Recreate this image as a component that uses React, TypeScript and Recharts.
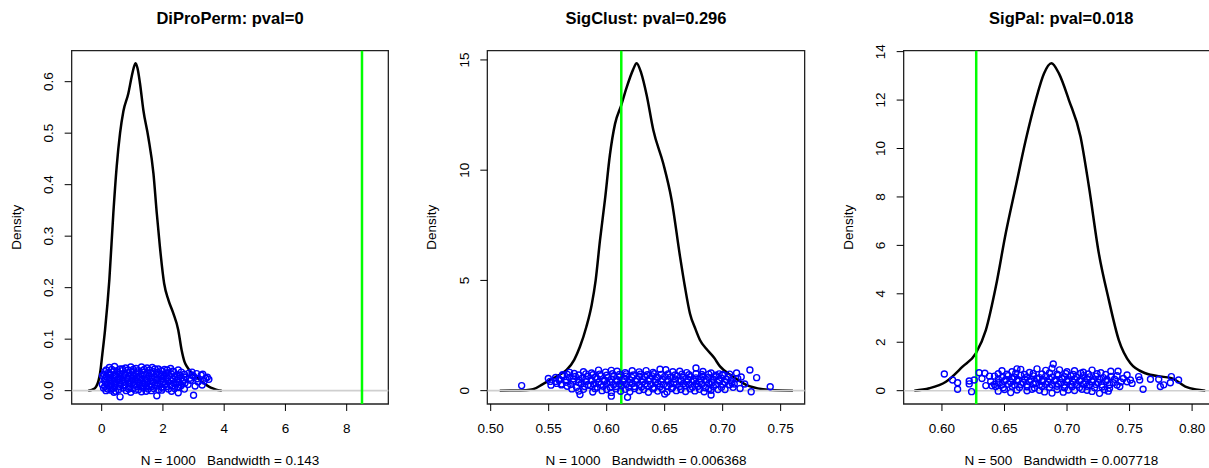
import { ComposedChart, Line, Scatter, XAxis, YAxis, ReferenceLine, ReferenceArea } from "recharts";

const FONT = '"Liberation Sans", Arial, Helvetica, sans-serif';

type Pair = [number, number];

// ---- DiProPerm ----
const diproDensity: Pair[] = [
  [-0.44, 0], [-0.3, 0.002], [-0.18, 0.008], [-0.1, 0.02], [-0.05, 0.035], [0.02, 0.07],
  [0.11, 0.118], [0.25, 0.215], [0.38, 0.344], [0.49, 0.435], [0.6, 0.5], [0.71, 0.543],
  [0.87, 0.577], [0.98, 0.61], [1.05, 0.628], [1.11, 0.636], [1.17, 0.626], [1.25, 0.597],
  [1.36, 0.545], [1.52, 0.493], [1.69, 0.422], [1.8, 0.344], [1.9, 0.28], [2.04, 0.208],
  [2.18, 0.176], [2.34, 0.15], [2.5, 0.118], [2.61, 0.079], [2.7, 0.057], [2.78, 0.047],
  [2.9, 0.037], [3.05, 0.029], [3.2, 0.021], [3.35, 0.014], [3.5, 0.008], [3.65, 0.004],
  [3.8, 0.001], [3.92, 0],
];
const diproPoints: Pair[] = [
  [0.25, 0.045], [0.42, 0.047], [0.6, 0.042], [0.78, 0.044], [0.95, 0.046], [1.12, 0.043],
  [1.3, 0.046], [1.48, 0.044], [1.65, 0.045], [1.85, 0.042], [2.05, 0.041], [2.25, 0.043],
  [0.15, 0.04], [0.33, 0.041], [0.5, 0.039], [0.68, 0.042], [0.86, 0.04], [1.03, 0.041],
  [1.2, 0.039], [1.39, 0.041], [1.56, 0.04], [1.74, 0.042], [1.94, 0.039], [2.14, 0.04],
  [2.32, 0.038], [2.5, 0.04],
  [0.1, 0.037], [0.22, 0.035], [0.38, 0.038], [0.52, 0.036], [0.68, 0.039], [0.85, 0.035],
  [1.0, 0.038], [1.17, 0.036], [1.34, 0.039], [1.5, 0.035], [1.68, 0.037], [1.82, 0.036],
  [1.98, 0.038], [2.15, 0.035], [2.35, 0.037], [2.6, 0.036], [2.85, 0.034], [3.1, 0.033],
  [0.08, 0.032], [0.26, 0.033], [0.43, 0.031], [0.6, 0.033], [0.78, 0.032], [0.96, 0.031],
  [1.12, 0.033], [1.29, 0.032], [1.45, 0.031], [1.62, 0.033], [1.78, 0.032], [1.94, 0.031],
  [2.1, 0.033], [2.28, 0.032], [2.47, 0.031], [2.7, 0.032], [2.95, 0.03],
  [0.03, 0.029], [0.16, 0.027], [0.3, 0.03], [0.45, 0.028], [0.6, 0.027], [0.74, 0.03],
  [0.9, 0.028], [1.05, 0.029], [1.22, 0.027], [1.38, 0.03], [1.55, 0.028], [1.72, 0.027],
  [1.88, 0.03], [2.03, 0.028], [2.2, 0.029], [2.4, 0.027], [2.55, 0.03], [2.75, 0.026],
  [3.0, 0.028], [3.25, 0.03], [3.4, 0.024], [3.5, 0.022],
  [0.11, 0.024], [0.27, 0.025], [0.41, 0.023], [0.56, 0.024], [0.7, 0.025], [0.86, 0.023],
  [1.0, 0.024], [1.16, 0.025], [1.32, 0.023], [1.48, 0.024], [1.65, 0.025], [1.82, 0.023],
  [1.98, 0.024], [2.15, 0.025], [2.33, 0.023], [2.5, 0.024], [2.68, 0.022], [2.88, 0.024],
  [3.12, 0.023],
  [0.08, 0.02], [0.24, 0.021], [0.36, 0.019], [0.5, 0.021], [0.66, 0.02], [0.82, 0.022],
  [0.96, 0.019], [1.1, 0.021], [1.27, 0.02], [1.43, 0.022], [1.6, 0.019], [1.77, 0.021],
  [1.93, 0.02], [2.1, 0.022], [2.28, 0.019], [2.46, 0.021], [2.66, 0.018], [2.9, 0.02],
  [3.15, 0.017], [3.35, 0.019],
  [0.13, 0.016], [0.28, 0.017], [0.43, 0.015], [0.58, 0.016], [0.73, 0.017], [0.88, 0.015],
  [1.03, 0.016], [1.18, 0.017], [1.34, 0.015], [1.5, 0.016], [1.66, 0.017], [1.83, 0.015],
  [2.0, 0.016], [2.17, 0.017], [2.35, 0.015], [2.52, 0.016], [2.72, 0.015],
  [0.02, 0.012], [0.18, 0.013], [0.32, 0.011], [0.47, 0.013], [0.62, 0.012], [0.77, 0.011],
  [0.92, 0.013], [1.07, 0.012], [1.24, 0.011], [1.4, 0.013], [1.57, 0.012], [1.74, 0.011],
  [1.9, 0.013], [2.07, 0.012], [2.24, 0.011], [2.42, 0.013], [2.6, 0.01], [2.82, 0.012],
  [3.05, 0.009], [3.28, 0.011],
  [0.1, 0.008], [0.26, 0.009], [0.42, 0.007], [0.58, 0.008], [0.74, 0.009], [0.9, 0.007],
  [1.14, 0.008], [1.3, 0.009], [1.46, 0.007], [1.62, 0.008], [1.8, 0.009], [1.96, 0.007],
  [2.12, 0.008], [2.3, 0.009], [2.48, 0.007],
  [0.06, 0.005], [0.2, 0.003], [0.35, 0.004], [0.55, 0.002], [0.7, 0.005], [0.88, 0.003],
  [1.02, 0.004], [1.2, 0.002], [1.36, 0.005], [1.52, 0.003], [1.7, 0.004], [1.86, 0.002],
  [2.0, 0.005], [2.18, 0.003], [2.38, 0.004], [2.52, 0.006], [2.7, 0.003],
  [0.14, 0.0], [0.3, 0.001], [0.46, -0.001], [0.8, 0.0], [1.1, 0.001], [1.45, -0.001],
  [1.62, 0.0], [1.96, 0.001], [2.28, -0.001],
  [0.6, -0.012], [1.8, -0.01], [3.0, -0.009], [0.4, -0.003], [1.3, -0.002], [2.5, -0.004],
  [0.95, -0.003], [3.45, 0.026], [3.3, 0.032], [2.95, 0.036],
];
const diproTicksX = [0, 2, 4, 6, 8];
const diproTicksY = [0, 0.1, 0.2, 0.3, 0.4, 0.5, 0.6];

// ---- SigClust ----
const sigclustDensity: Pair[] = [
  [0.5078, 0], [0.52, 0.003], [0.53, 0.02], [0.5365, 0.06], [0.545, 0.3], [0.5566, 0.64],
  [0.5655, 0.94], [0.572, 1.4], [0.577, 2.0], [0.5825, 2.9], [0.5871, 3.9], [0.5905, 5.0],
  [0.5942, 6.8], [0.5985, 8.65], [0.6028, 10.7], [0.6072, 12.1], [0.6126, 12.95],
  [0.6169, 13.7], [0.6227, 14.55], [0.6258, 14.85], [0.6298, 14.4], [0.6345, 13.4],
  [0.6402, 11.82], [0.6488, 10.3], [0.656, 8.65], [0.6632, 6.1], [0.6675, 4.7],
  [0.6718, 3.5], [0.6765, 2.8], [0.6804, 2.3], [0.6859, 1.9], [0.6925, 1.5], [0.6977, 1.1],
  [0.7089, 0.64], [0.7203, 0.26], [0.7347, 0.06], [0.745, 0.015], [0.7606, 0],
];
const sigclustPoints: Pair[] = [
  [0.572, 0.78], [0.58, 0.86], [0.587, 0.8], [0.593, 0.93], [0.599, 0.84], [0.604, 0.92],
  [0.609, 0.88], [0.616, 0.82], [0.622, 0.9], [0.628, 0.85], [0.634, 0.91], [0.64, 0.83],
  [0.646, 0.97], [0.651, 0.95], [0.657, 0.86], [0.663, 0.88], [0.669, 0.82], [0.677, 1.03],
  [0.683, 0.87], [0.69, 0.8], [0.697, 0.76],
  [0.566, 0.74], [0.576, 0.71], [0.582, 0.76], [0.588, 0.72], [0.594, 0.75], [0.6, 0.7],
  [0.605, 0.77], [0.611, 0.73], [0.617, 0.76], [0.623, 0.71], [0.629, 0.75], [0.635, 0.72],
  [0.641, 0.77], [0.647, 0.73], [0.653, 0.76], [0.659, 0.71], [0.665, 0.75], [0.671, 0.72],
  [0.677, 0.77], [0.682, 0.73], [0.688, 0.75], [0.694, 0.7], [0.7, 0.74],
  [0.562, 0.66], [0.568, 0.6], [0.573, 0.64], [0.579, 0.58], [0.584, 0.65], [0.59, 0.61],
  [0.595, 0.67], [0.601, 0.6], [0.606, 0.64], [0.611, 0.62], [0.617, 0.66], [0.622, 0.59],
  [0.628, 0.65], [0.633, 0.62], [0.639, 0.67], [0.644, 0.6], [0.65, 0.64], [0.655, 0.61],
  [0.661, 0.66], [0.666, 0.6], [0.672, 0.63], [0.677, 0.58], [0.683, 0.65], [0.688, 0.6],
  [0.694, 0.63], [0.699, 0.57], [0.705, 0.62],
  [0.559, 0.52], [0.565, 0.5], [0.571, 0.53], [0.576, 0.49], [0.582, 0.52], [0.587, 0.5],
  [0.592, 0.54], [0.598, 0.49], [0.604, 0.52], [0.609, 0.5], [0.615, 0.53], [0.62, 0.49],
  [0.626, 0.52], [0.631, 0.5], [0.637, 0.54], [0.642, 0.49], [0.648, 0.52], [0.653, 0.5],
  [0.659, 0.53], [0.664, 0.49], [0.67, 0.52], [0.675, 0.5], [0.681, 0.54], [0.686, 0.49],
  [0.692, 0.52], [0.697, 0.5], [0.703, 0.51],
  [0.556, 0.42], [0.565, 0.38], [0.571, 0.43], [0.576, 0.37], [0.582, 0.41], [0.587, 0.44],
  [0.593, 0.38], [0.598, 0.42], [0.603, 0.39], [0.609, 0.43], [0.614, 0.4], [0.62, 0.37],
  [0.625, 0.42], [0.631, 0.39], [0.636, 0.44], [0.642, 0.38], [0.647, 0.41], [0.653, 0.43],
  [0.658, 0.37], [0.664, 0.42], [0.669, 0.39], [0.675, 0.44], [0.68, 0.38], [0.686, 0.41],
  [0.691, 0.36], [0.697, 0.43], [0.702, 0.38], [0.708, 0.35],
  [0.561, 0.3], [0.569, 0.28], [0.578, 0.31], [0.584, 0.27], [0.589, 0.3], [0.595, 0.28],
  [0.6, 0.31], [0.606, 0.27], [0.611, 0.3], [0.617, 0.28], [0.622, 0.31], [0.628, 0.27],
  [0.633, 0.3], [0.638, 0.28], [0.644, 0.31], [0.649, 0.27], [0.655, 0.3], [0.66, 0.28],
  [0.666, 0.31], [0.671, 0.27], [0.677, 0.3], [0.682, 0.28], [0.688, 0.31], [0.694, 0.27],
  [0.7, 0.29], [0.706, 0.27],
  [0.566, 0.2], [0.574, 0.15], [0.581, 0.19], [0.586, 0.22], [0.592, 0.16], [0.597, 0.2],
  [0.603, 0.14], [0.608, 0.19], [0.613, 0.22], [0.619, 0.15], [0.624, 0.19], [0.63, 0.17],
  [0.635, 0.21], [0.641, 0.14], [0.646, 0.18], [0.652, 0.2], [0.657, 0.15], [0.663, 0.19],
  [0.668, 0.22], [0.674, 0.16], [0.679, 0.2], [0.685, 0.13], [0.692, 0.18], [0.699, 0.15],
  [0.57, 0.08], [0.58, 0.06], [0.59, 0.09], [0.6, 0.05], [0.608, 0.08], [0.616, 0.06],
  [0.624, 0.09], [0.632, 0.05], [0.64, 0.08], [0.648, 0.06], [0.656, 0.09], [0.664, 0.05],
  [0.672, 0.08], [0.68, 0.06], [0.688, 0.09], [0.696, 0.05],
  [0.576, -0.02], [0.588, -0.06], [0.596, 0.0], [0.604, -0.08], [0.612, -0.03], [0.62, -0.05],
  [0.628, 0.01], [0.636, -0.07], [0.644, -0.02], [0.652, -0.06], [0.66, 0.0], [0.668, -0.04],
  [0.676, -0.01], [0.684, -0.05], [0.69, 0.02],
  [0.577, -0.18], [0.604, -0.25], [0.618, -0.3], [0.65, -0.15], [0.69, -0.2], [0.7246, -0.05],
  [0.5267, 0.23], [0.5497, 0.55], [0.5513, 0.42], [0.552, 0.25], [0.556, 0.6], [0.559, 0.47],
  [0.562, 0.72], [0.557, 0.33], [0.568, 0.83], [0.561, 0.26],
  [0.706, 0.75], [0.71, 0.3], [0.713, 0.55], [0.715, 0.1], [0.716, 0.62], [0.719, 0.3],
  [0.7235, 0.94], [0.7293, 0.59], [0.741, 0.18], [0.7, 0.7], [0.709, 0.15], [0.702, 0.05],
  [0.707, 0.45], [0.712, 0.8],
];
const sigclustTicksX = [0.5, 0.55, 0.6, 0.65, 0.7, 0.75];
const sigclustTicksY = [0, 5, 10, 15];

// ---- SigPal ----
const sigpalDensity: Pair[] = [
  [0.5779, 0], [0.5899, 0.1], [0.6032, 0.37], [0.6165, 0.99], [0.6271, 1.54], [0.6351, 2.5],
  [0.6431, 4.3], [0.651, 6.5], [0.659, 8.43], [0.667, 10.35], [0.675, 12.0], [0.6816, 13.1],
  [0.6875, 13.52], [0.6935, 13.1], [0.7015, 12.0], [0.7108, 10.49], [0.7175, 8.43],
  [0.7254, 5.68], [0.7334, 3.75], [0.7414, 2.09], [0.7507, 1.13], [0.7627, 0.72],
  [0.776, 0.58], [0.784, 0.51], [0.7946, 0.17], [0.803, 0.05], [0.8105, 0],
];
const sigpalPoints: Pair[] = [
  [0.648, 0.82], [0.656, 0.78], [0.663, 0.88], [0.67, 0.75], [0.676, 0.9], [0.683, 0.84],
  [0.689, 1.1], [0.694, 0.86], [0.7, 0.78], [0.706, 0.82], [0.713, 0.76], [0.72, 0.85],
  [0.727, 0.74], [0.735, 0.8], [0.66, 0.9], [0.688, 0.93],
  [0.645, 0.7], [0.652, 0.68], [0.659, 0.72], [0.666, 0.67], [0.673, 0.71], [0.68, 0.69],
  [0.686, 0.73], [0.692, 0.68], [0.699, 0.71], [0.705, 0.67], [0.711, 0.72], [0.717, 0.69],
  [0.724, 0.7], [0.731, 0.67],
  [0.642, 0.6], [0.648, 0.55], [0.653, 0.62], [0.658, 0.56], [0.663, 0.63], [0.668, 0.57],
  [0.673, 0.61], [0.678, 0.54], [0.683, 0.6], [0.688, 0.56], [0.693, 0.64], [0.698, 0.58],
  [0.703, 0.61], [0.708, 0.55], [0.713, 0.62], [0.718, 0.57], [0.723, 0.6], [0.729, 0.54],
  [0.735, 0.59], [0.74, 0.62],
  [0.645, 0.48], [0.651, 0.46], [0.656, 0.49], [0.661, 0.45], [0.666, 0.48], [0.671, 0.46],
  [0.676, 0.49], [0.681, 0.45], [0.686, 0.48], [0.691, 0.46], [0.696, 0.49], [0.701, 0.45],
  [0.706, 0.48], [0.711, 0.46], [0.716, 0.49], [0.721, 0.45], [0.726, 0.48], [0.732, 0.46],
  [0.738, 0.47],
  [0.639, 0.38], [0.645, 0.33], [0.65, 0.39], [0.655, 0.35], [0.66, 0.4], [0.665, 0.34],
  [0.67, 0.37], [0.675, 0.32], [0.68, 0.39], [0.685, 0.35], [0.69, 0.4], [0.695, 0.33],
  [0.7, 0.38], [0.705, 0.35], [0.71, 0.4], [0.715, 0.33], [0.72, 0.37], [0.725, 0.34],
  [0.731, 0.39], [0.737, 0.33], [0.743, 0.36],
  [0.642, 0.26], [0.648, 0.24], [0.653, 0.27], [0.658, 0.23], [0.663, 0.26], [0.668, 0.24],
  [0.673, 0.27], [0.678, 0.23], [0.683, 0.26], [0.688, 0.24], [0.693, 0.27], [0.698, 0.23],
  [0.703, 0.26], [0.708, 0.24], [0.713, 0.27], [0.718, 0.23], [0.723, 0.26], [0.728, 0.24],
  [0.734, 0.25], [0.74, 0.23],
  [0.643, 0.17], [0.649, 0.12], [0.656, 0.18], [0.662, 0.13], [0.668, 0.16], [0.674, 0.11],
  [0.68, 0.17], [0.686, 0.14], [0.692, 0.18], [0.698, 0.12], [0.704, 0.16], [0.71, 0.13],
  [0.716, 0.18], [0.722, 0.12], [0.728, 0.15], [0.734, 0.1],
  [0.65, 0.05], [0.66, 0.03], [0.672, 0.06], [0.678, 0.02], [0.692, 0.05], [0.701, 0.03],
  [0.712, 0.06], [0.716, 0.02], [0.73, 0.04],
  [0.645, -0.02], [0.655, -0.08], [0.668, 0.0], [0.682, -0.05], [0.688, -0.1], [0.697, -0.06],
  [0.706, 0.01], [0.72, -0.03], [0.726, -0.11], [0.733, -0.02],
  [0.6019, 0.69], [0.6085, 0.44], [0.6125, 0.33], [0.6125, 0.06], [0.6218, 0.4], [0.6218, 0.28],
  [0.6237, -0.04], [0.6258, 0.44], [0.6297, 0.74], [0.6343, 0.72], [0.6351, 0.21], [0.632, 0.5],
  [0.638, 0.6], [0.64, 0.2],
  [0.7573, 0.58], [0.7581, 0.44], [0.7608, 0.06], [0.7667, 0.47], [0.7733, 0.47], [0.7746, 0.17],
  [0.7773, 0.24], [0.7834, 0.58], [0.7826, 0.33], [0.7892, 0.44], [0.748, 0.65], [0.748, 0.37],
  [0.7507, 0.44], [0.7408, 0.8], [0.7422, 0.17], [0.745, 0.5], [0.752, 0.3],
];
const sigpalTicksX = [0.6, 0.65, 0.7, 0.75, 0.8];
const sigpalTicksY = [0, 2, 4, 6, 8, 10, 12, 14];

const toXY = (pairs: Pair[]) => pairs.map(([x, y]) => ({ x, y }));

const BOX_TOP = 50.67;
const BOX_BOTTOM = 404;
const H = 468;

function Ring(props: any) {
  if (props.cx == null || props.cy == null) return null;
  return <circle cx={props.cx} cy={props.cy} r={3} fill="none" stroke="#0000ff" strokeWidth={1.4} />;
}

interface PanelProps {
  left: number;
  boxLeft: number;
  boxRight: number;
  xDomain: [number, number];
  yDomain: [number, number];
  xTicks: number[];
  yTicks: number[];
  xFmt: (v: number) => string;
  yFmt: (v: number) => string;
  density: Pair[];
  points: Pair[];
  observed: number;
  title: string;
  sub: string;
}

function Panel(p: PanelProps) {
  const width = p.boxRight - p.left + 10;
  const axisH = 40;
  const cx = (p.boxLeft + p.boxRight) / 2 - p.left;
  const yLabelX = p.boxLeft - p.left - 51;
  const yMid = (BOX_TOP + BOX_BOTTOM) / 2;
  return (
    <div style={{ position: "absolute", left: p.left, top: 0, width, height: H }}>
      <ComposedChart
        width={width}
        height={H}
        margin={{ top: BOX_TOP, right: 10, bottom: H - BOX_BOTTOM - axisH, left: 0 }}
      >
        <XAxis
          type="number"
          dataKey="x"
          domain={p.xDomain}
          ticks={p.xTicks}
          allowDataOverflow
          interval={0}
          height={axisH}
          axisLine={false}
          stroke="#000"
          tickSize={7}
          tickMargin={12}
          tickLine={{ stroke: "#000" }}
          tick={{ fill: "#000", fontSize: 13.5, fontFamily: FONT }}
          tickFormatter={p.xFmt}
        />
        <YAxis
          type="number"
          dataKey="y"
          domain={p.yDomain}
          ticks={p.yTicks}
          allowDataOverflow
          interval={0}
          width={p.boxLeft - p.left}
          axisLine={false}
          stroke="#000"
          tickSize={7}
          tickMargin={11.5}
          tickLine={{ stroke: "#000" }}
          tick={(t: any) => (
            <text
              x={t.x}
              y={t.y}
              transform={`rotate(-90 ${t.x} ${t.y})`}
              textAnchor="middle"
              fontSize={13.5}
              fontFamily={FONT}
              fill="#000"
            >
              {p.yFmt(t.payload.value)}
            </text>
          )}
        />
        <ReferenceArea
          x1={p.xDomain[0]}
          x2={p.xDomain[1]}
          y1={p.yDomain[0]}
          y2={p.yDomain[1]}
          fill="none"
          fillOpacity={0}
          stroke="#222"
          strokeWidth={1.3}
        />
        <Line
          data={toXY(p.density)}
          dataKey="y"
          type="monotone"
          stroke="#000"
          strokeWidth={2.5}
          dot={false}
          activeDot={false}
          isAnimationActive={false}
        />
        <ReferenceLine y={0} stroke="#cfcfcf" strokeWidth={1.6} />
        <Scatter data={toXY(p.points)} dataKey="y" shape={Ring} isAnimationActive={false} />
        <ReferenceLine x={p.observed} stroke="#00ff00" strokeWidth={2.5} />
      </ComposedChart>
      <svg
        width={width}
        height={H}
        style={{ position: "absolute", left: 0, top: 0, pointerEvents: "none" }}
      >
        <text x={cx} y={24} textAnchor="middle" fontSize={16.5} fontWeight="bold" fontFamily={FONT}>
          {p.title}
        </text>
        <text
          x={cx}
          y={464.5}
          textAnchor="middle"
          fontSize={13.5}
          fontFamily={FONT}
          style={{ whiteSpace: "pre" }}
        >
          {p.sub}
        </text>
        <text
          x={yLabelX}
          y={yMid}
          transform={`rotate(-90 ${yLabelX} ${yMid})`}
          textAnchor="middle"
          fontSize={13.5}
          fontFamily={FONT}
        >
          Density
        </text>
      </svg>
    </div>
  );
}

export default function App() {
  return (
    <div
      style={{
        position: "fixed",
        left: 0,
        top: 0,
        width: 1209,
        height: H,
        overflow: "hidden",
        background: "#fff",
      }}
    >
      <Panel
        left={0}
        boxLeft={71.67}
        boxRight={388.33}
        xDomain={[-0.98, 9.36]}
        yDomain={[-0.0259, 0.6602]}
        xTicks={diproTicksX}
        yTicks={diproTicksY}
        xFmt={(v) => String(v)}
        yFmt={(v) => v.toFixed(1)}
        density={diproDensity}
        points={diproPoints}
        observed={8.5}
        title="DiProPerm: pval=0"
        sub="N = 1000   Bandwidth = 0.143"
      />
      <Panel
        left={403}
        boxLeft={487.33}
        boxRight={804.67}
        xDomain={[0.4971, 0.7707]}
        yDomain={[-0.605, 15.42]}
        xTicks={sigclustTicksX}
        yTicks={sigclustTicksY}
        xFmt={(v) => v.toFixed(2)}
        yFmt={(v) => String(v)}
        density={sigclustDensity}
        points={sigclustPoints}
        observed={0.6126}
        title="SigClust: pval=0.296"
        sub="N = 1000   Bandwidth = 0.006368"
      />
      <Panel
        left={806}
        boxLeft={903.67}
        boxRight={1219}
        xDomain={[0.5694, 0.8215]}
        yDomain={[-0.55, 14.04]}
        xTicks={sigpalTicksX}
        yTicks={sigpalTicksY}
        xFmt={(v) => v.toFixed(2)}
        yFmt={(v) => String(v)}
        density={sigpalDensity}
        points={sigpalPoints}
        observed={0.6274}
        title="SigPal: pval=0.018"
        sub="N = 500   Bandwidth = 0.007718"
      />
    </div>
  );
}
